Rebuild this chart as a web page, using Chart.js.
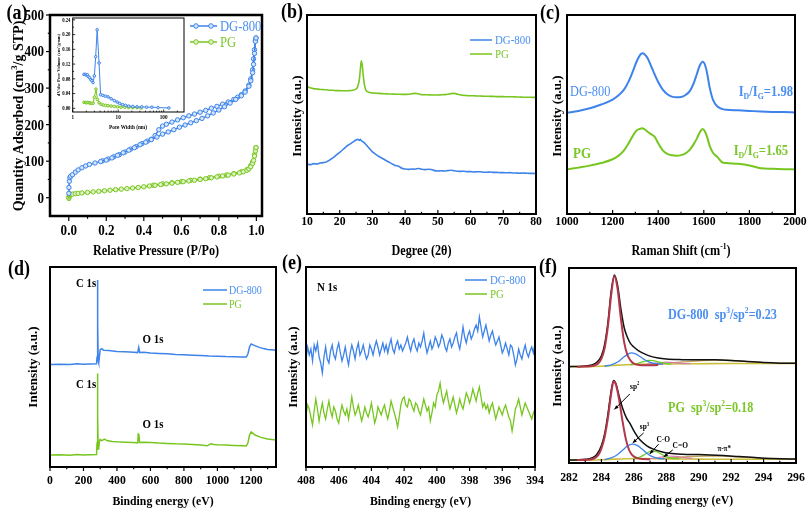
<!DOCTYPE html>
<html>
<head>
<meta charset="utf-8">
<script src="https://cdn.jsdelivr.net/npm/chart.js@4.4.1/dist/chart.umd.min.js"></script>
<style>
  body { margin: 0; background: #fff; }
  #wrap { position: relative; width: 808px; height: 511px; overflow: hidden; }
  #wrap canvas { position: absolute; left: 0; top: 0; }
</style>
</head>
<body>
<div id="wrap">
  <canvas id="ca" width="808" height="511"></canvas>
  <canvas id="cb" width="808" height="511"></canvas>
  <canvas id="cc" width="808" height="511"></canvas>
  <canvas id="cd" width="808" height="511"></canvas>
  <canvas id="ce" width="808" height="511"></canvas>
  <canvas id="cf" width="808" height="511"></canvas>
  <canvas id="cin" width="808" height="511"></canvas>
</div>
<script>
/* six-panel characterisation figure: BET, XRD, Raman, XPS survey, N 1s, C 1s */

// ---- (a) N2 isotherms, P/Po vs quantity adsorbed
const dgAdsP = [0.0005,0.001,0.003,0.006,0.01,0.02,0.035,0.05,0.07,0.09,0.11,0.14,0.17,0.2,0.23,0.26,0.29,0.32,0.35,0.38,0.41,0.44,0.47,0.5,0.53,0.56,0.59,0.62,0.65,0.68,0.71,0.74,0.77,0.8,0.83,0.86,0.89,0.92,0.94,0.96,0.97,0.98,0.985,0.99,0.995,0.998];
const dgAdsQ = [12,28,45,55,59,63,70,76,82,87,91,95,99,103,109,116,123,130,137,145,152,159,166,174,180,186,193,199,205,211,217,224,232,240,249,259,269,279,289,305,320,342,365,395,428,437];
const dgDesP = [0.998,0.995,0.99,0.985,0.98,0.97,0.96,0.94,0.92,0.9,0.88,0.85,0.82,0.79,0.76,0.73,0.7,0.67,0.64,0.61,0.58,0.55,0.52,0.5,0.48,0.46,0.44,0.42,0.39,0.36,0.33,0.3,0.27,0.24,0.21,0.18];
const dgDesQ = [437,430,405,380,350,325,308,292,282,275,269,262,256,250,245,239,234,229,224,219,213,207,201,196,186,170,160,155,148,140,133,125,118,112,106,101];
const pgAdsP = [0.0005,0.001,0.003,0.006,0.01,0.02,0.035,0.05,0.07,0.1,0.13,0.16,0.19,0.22,0.25,0.28,0.31,0.34,0.37,0.4,0.43,0.46,0.49,0.52,0.55,0.58,0.61,0.64,0.67,0.7,0.73,0.76,0.79,0.82,0.85,0.88,0.91,0.93,0.95,0.96,0.97,0.98,0.985,0.99,0.995,0.998];
const pgAdsQ = [-2,2,6,8,9,10,11,12,13,14.5,16,17.5,19,20.5,22,23.5,25,26.5,28,30,32,34,36,38,40,42,44,46,48,50,52,54.5,57,59.5,62,65,68,71,75,79,85,94,102,114,128,137];
const pgDesP = [0.998,0.99,0.98,0.97,0.95,0.92,0.88,0.84,0.8,0.75,0.7,0.65,0.6,0.55,0.5,0.45];
const pgDesQ = [137,118,98,88,77,71,66,62,59,55,51,47.5,44,41,38,34];

// ---- (a) inset, pore width (nm) vs dV/dw
const dgPoreW = [1.77,1.9,2.0,2.1,2.2,2.35,2.5,2.65,2.8,3.0,3.2,3.45,3.8,4.1,4.6,5.2,6.0,7.0,8.2,9.5,10.8,12.5,14.5,17,21,26,33,42,55,75,130];
const dgPoreV = [0.092,0.092,0.090,0.091,0.086,0.083,0.078,0.075,0.070,0.088,0.140,0.213,0.123,0.037,0.035,0.033,0.031,0.026,0.021,0.017,0.013,0.010,0.008,0.006,0.005,0.004,0.004,0.003,0.003,0.002,0.001];
const pgPoreW = [1.77,1.9,2.0,2.15,2.3,2.45,2.6,2.8,3.0,3.25,3.5,3.8,4.2,4.7,5.3,6.0,7.0,8.2,9.6,11.5,14,17,21,26,32];
const pgPoreV = [0.016,0.016,0.015,0.016,0.015,0.014,0.013,0.014,0.030,0.052,0.024,0.015,0.011,0.009,0.008,0.007,0.006,0.005,0.004,0.003,0.003,0.002,0.002,0.002,0.001];

// ---- (b) XRD, 2theta vs intensity (a.u.)
const xrdAngle = [10,11,12,13,14,15,16,17,18,19,20,21,22,23,24,25,25.5,26,26.3,26.6,26.9,27.2,27.6,28,29,30,31,32,33,34,35,36,37,38,39,40,41,42,43,44,45,46,47,48,49,50,51,52,53,54,55,56,57,58,59,60,61,62,63,64,65,66,67,68,69,70,71,72,73,74,75,76,77,78,79,80];
const xrdDG = [25.0,24.8,25.3,25.1,25.6,25.8,26.2,27.2,28.3,29.7,31.0,32.4,33.9,35.0,36.1,37.2,37.6,37.0,37.5,36.8,36.5,36.2,35.6,34.9,33.0,31.2,30.0,28.9,28.0,27.0,26.1,25.2,24.4,24.0,23.0,22.6,22.4,22.6,22.5,22.9,22.5,22.3,22.5,22.4,21.8,21.6,21.7,21.6,21.8,22.0,21.7,21.5,21.4,21.5,21.3,21.3,21.1,21.2,21.2,21.0,21.0,21.1,20.9,20.9,20.8,20.8,20.7,20.8,20.6,20.6,20.5,20.6,20.5,20.4,20.4,20.3];
const xrdPG = [64.0,63.4,63.0,62.8,62.6,62.5,62.4,62.2,62.2,62.0,62.0,61.9,61.9,62.0,62.2,62.8,64.0,67.5,72.5,77.0,74.5,69.5,64.5,62.3,61.2,60.8,60.7,60.6,60.5,60.4,60.3,60.3,60.2,60.2,60.1,60.1,60.2,60.4,60.6,60.4,60.0,59.9,59.9,59.8,59.8,59.8,59.9,60.0,60.2,60.5,60.6,60.2,59.8,59.6,59.5,59.4,59.4,59.3,59.3,59.2,59.2,59.1,59.1,59.0,59.0,59.0,58.9,58.9,58.9,58.8,58.8,58.7,58.7,58.7,58.6,58.6];

// ---- (c) Raman, shift (cm-1) vs intensity (a.u.)
const ramanShift = [1000,1050,1100,1150,1200,1225,1250,1270,1290,1305,1320,1330,1340,1355,1370,1385,1400,1420,1440,1460,1480,1500,1520,1540,1555,1570,1582,1595,1605,1615,1625,1640,1660,1680,1700,1750,1800,1850,1900,1950,2000];
const ramanDG = [50.9,51.8,53.1,55.0,57.5,59.5,62.5,66.5,72.0,76.5,79.8,80.8,80.3,78.0,74.0,70.0,66.3,62.5,60.2,59.0,58.7,58.8,59.8,62.0,65.5,70.5,74.5,76.5,75.0,70.5,64.0,57.5,54.0,52.8,52.4,52.1,51.8,51.5,51.3,51.2,51.0];
const ramanPG = [22.4,23.3,24.3,25.6,27.5,29.2,32.0,35.5,39.5,42.0,42.8,43.1,42.6,41.2,40.0,38.8,35.5,32.0,30.2,29.5,29.3,29.6,30.5,32.5,35.0,38.0,41.0,42.7,41.5,38.5,34.5,30.8,28.6,26.0,25.6,25.2,24.4,23.0,22.7,22.5,22.4];

// ---- (d) XPS survey, binding energy (eV) vs intensity (a.u.)
const surveyDGeV = [0,60,120,160,200,240,278,281,283,284.6,286,288,291,295,300,310,320,350,400,450,500,524,530,536,560,600,650,700,750,800,850,900,950,1000,1050,1100,1150,1172,1182,1192,1202,1220,1250,1275,1300,1325,1350];
const surveyDG = [51.3,51.4,51.2,51.6,51.4,51.5,51.6,55,75,93.5,72,53,52,55,58.8,59.2,58.4,58.2,57.8,57.6,57.4,57.2,59.8,57.3,57.4,57.0,56.8,56.6,56.3,56.1,55.9,55.7,55.5,55.4,55.2,55.1,55.0,55.0,56.5,60.0,61.5,60.8,59.8,59.2,58.8,58.6,58.4];
const surveyPGeV = [0,60,120,160,200,240,278,281,283,284.6,286,288,291,295,300,310,325,340,370,400,450,500,524,527,531,535,560,600,650,700,750,800,850,900,940,960,980,1000,1050,1100,1150,1172,1182,1192,1202,1225,1260,1300,1350];
const surveyPG = [6.0,6.1,5.9,6.2,6.0,6.1,6.2,12,30,46.8,25,9.0,9.5,12.5,13.8,13.2,13.9,13.2,12.8,12.6,12.4,12.2,12.0,16.5,16.2,12.3,12.4,12.3,12.0,11.8,11.6,11.5,11.3,11.0,10.6,11.6,11.2,11.1,11.0,10.8,10.6,10.5,12,16.0,17.5,16.0,14.8,14.0,13.5];

// ---- (e) N 1s, binding energy (eV) vs intensity (a.u.)
const n1sEV = [
  408.0,407.9,407.8,407.7,407.6,407.5,407.4,407.3,407.2,407.1,
  407.0,406.9,406.8,406.7,406.6,406.5,406.4,406.3,406.2,406.1,
  406.0,405.9,405.8,405.7,405.6,405.5,405.4,405.3,405.2,405.1,
  405.0,404.9,404.8,404.7,404.6,404.5,404.4,404.3,404.2,404.1,
  404.0,403.9,403.8,403.7,403.6,403.5,403.4,403.3,403.2,403.1,
  403.0,402.9,402.8,402.7,402.6,402.5,402.4,402.3,402.2,402.1,
  402.0,401.9,401.8,401.7,401.6,401.5,401.4,401.3,401.2,401.1,
  401.0,400.9,400.8,400.7,400.6,400.5,400.4,400.3,400.2,400.1,
  400.0,399.9,399.8,399.7,399.6,399.5,399.4,399.3,399.2,399.1,
  399.0,398.9,398.8,398.7,398.6,398.5,398.4,398.3,398.2,398.1,
  398.0,397.9,397.8,397.7,397.6,397.5,397.4,397.3,397.2,397.1,
  397.0,396.9,396.8,396.7,396.6,396.5,396.4,396.3,396.2,396.1,
  396.0,395.9,395.8,395.7,395.6,395.5,395.4,395.3,395.2,395.1,
  395.0,394.9,394.8,394.7,394.6,394.5,394.4,394.3,394.2,394.1,
  394.0];
const n1sDG = [
  54,60,56,59,53,61,58,62,55,52,
  47,55,60,54,52,58,61,56,54,59,
  62,57,53,56,60,55,51,57,61,58,
  54,59,62,56,58,61,57,54,56,61,
  59,56,60,63,60,56,59,62,58,61,
  57,61,64,59,57,61,63,59,61,58,
  60,62,65,61,58,62,64,60,58,62,
  60,63,67,61,57,60,63,59,61,65,
  63,60,62,66,64,60,58,62,64,60,
  62,65,67,62,59,64,70,65,62,66,
  68,64,66,69,71,68,75,70,65,68,
  71,67,63,66,68,64,61,63,65,61,
  57,59,62,59,56,61,60,56,51,54,
  59,56,54,58,61,57,55,58,60,57,
  62];
const n1sPG = [
  26,31,29,25,21,28,34,29,23,28,
  32,27,24,29,33,28,25,30,28,24,
  22,27,31,28,26,29,24,29,35,30,
  26,28,31,27,23,26,30,27,25,28,
  32,27,22,25,30,28,26,29,31,27,
  24,28,33,30,27,24,20,25,31,34,
  35,31,30,34,33,30,28,32,31,28,
  26,30,34,31,28,30,23,27,32,30,
  36,38,42,36,32,35,38,33,29,32,
  35,31,27,30,34,31,29,33,37,35,
  32,35,39,36,33,37,40,35,30,32,
  29,31,27,30,32,28,24,27,30,28,
  26,29,31,28,25,23,18,23,29,31,
  34,30,26,29,32,30,28,26,24,27,
  29];

// ---- (f) C 1s fits, DG-800 (upper trace)
const topEnvE = [282,282.5,283,283.4,283.7,284,284.2,284.4,284.6,284.8,285,285.2,285.4,285.6,285.8,286,286.3,286.6,287,287.5,288,289,290,291,292,293,294,295,296];
const topEnv = [49.4,49.5,49.7,50.3,51.5,55,61,72,88,96.4,91,79,69.5,64.5,61.2,59.5,57.5,56.2,54.8,53.8,53.3,53.0,52.9,52.9,52.6,52.0,51.5,51.2,51.1];
const topSp2E = [282.5,283,283.5,283.8,284,284.2,284.4,284.6,284.8,285,285.2,285.4,285.6,285.8,286,286.3,286.8,287.5];
const topSp2 = [49.4,49.5,49.9,51,53.5,59,70,86,95.8,89,74,62,55.5,52.5,51,50.3,50.1,50.2];
const topSp3E = [284.2,284.6,285,285.3,285.6,285.85,286.1,286.4,286.7,287,287.4,287.8];
const topSp3 = [49.7,50.3,51.8,53.8,55.6,56.5,56,54.5,52.8,51.6,50.9,50.7];
const topCOE = [285.8,286.2,286.6,286.9,287.2,287.5,287.9,288.3];
const topCO = [50.5,51,52,52.6,52.5,51.8,51.1,50.8];
const topCdOE = [286.8,287.4,288,288.5,289,289.5];
const topCdO = [50.7,51.2,51.7,51.5,51,50.9];
const topPiE = [287,288,289,290,291,292,293,294,295,296];
const topPi = [50.7,51.2,51.8,52.4,52.8,52.6,52,51.5,51.2,51.1];
const topBgE = [282,283,284,284.5,285,285.5,286,287,288,290,292,294,296];
const topBg = [49.4,49.4,49.6,49.9,50.2,50.4,50.5,50.7,50.8,50.9,51,51,51.1];

// ---- (f) C 1s fits, PG (lower trace)
const botEnvE = [282,282.5,283,283.4,283.7,284,284.2,284.4,284.6,284.75,284.9,285.1,285.35,285.55,285.75,286,286.36,286.8,287.2,287.7,288.2,289,290,290.7,291.5,292.5,293.8,295,296];
const botEnv = [1.5,1.6,1.9,2.6,4.2,9,15,25,37,42.3,40.5,34,27,23,20.4,16.5,12,8.8,7.1,5.8,5.0,4.5,4.3,4.1,3.8,3.3,2.6,2.2,2.0];
const botSp2E = [282.5,283,283.5,283.8,284,284.2,284.4,284.6,284.75,284.9,285.1,285.3,285.5,285.7,285.9,286.2,286.6,287];
const botSp2 = [1.5,1.6,2.2,4,7.5,13.5,23,35.5,41.8,40,32,21.5,12.5,6.8,4,2.5,2.0,1.9];
const botSp3E = [284.2,284.6,285,285.3,285.6,285.9,286.2,286.5,286.8,287.1,287.5,287.9];
const botSp3 = [1.7,2.6,4.4,6.5,8.7,9.7,9.0,7.2,5.0,3.4,2.4,2.1];
const botCOE = [286,286.4,286.8,287.1,287.4,287.7,288,288.4,288.8];
const botCO = [2.1,3.1,5.0,6.1,5.8,4.5,3.2,2.4,2.2];
const botCdOE = [287,287.6,288.1,288.6,289.1,289.6];
const botCdO = [2.2,2.9,3.6,3.4,2.8,2.4];
const botPiE = [287.5,288.5,289.5,290.5,291.5,292.5,293.5,294.5,295.5,296];
const botPi = [2.2,2.8,3.3,3.6,3.5,3.1,2.6,2.3,2.1,2.0];
const botBgE = [282,283,284,284.8,285.5,286.5,288,290,292,294,296];
const botBg = [1.5,1.5,1.7,2.0,2.2,2.3,2.1,2.0,1.9,1.9,1.9];

// tick values
const ticksA_x = [0, 0.2, 0.4, 0.6, 0.8, 1.0], ticksA_y = [0, 100, 200, 300, 400, 500];
const ticksIn_x = [1, 10, 100], ticksIn_y = [0, 0.04, 0.08, 0.12, 0.16, 0.20, 0.24];
const ticksB = [10, 20, 30, 40, 50, 60, 70, 80];
const ticksC = [1000, 1200, 1400, 1600, 1800, 2000];
const ticksD = [0, 200, 400, 600, 800, 1000, 1200];
const ticksE = [408, 406, 404, 402, 400, 398, 396, 394];
const ticksF = [282, 284, 286, 288, 290, 292, 294, 296];

// ---------------------------------------------------------------
const W = 808, H = 511;
const BLUE = '#3d83ea', GREEN = '#77c61f';
const BLUE_T = '#4a8ff0', GREEN_T = '#7bc72a';
const SERIF = '"Liberation Serif", "Times New Roman", serif';

const xy = (xs, ys) => xs.map((x, i) => ({ x, y: ys[i] }));
const series = (xs, ys, color, w, extra) =>
  Object.assign({ data: xy(xs, ys), showLine: true, borderColor: color, borderWidth: w, pointRadius: 0, fill: false }, extra || {});
const mids = (arr) => arr.slice(1).map((v, i) => (v + arr[i]) / 2);

function parseRich(s) {
  const out = [], re = /([\^_])\{([^}]*)\}/g;
  let last = 0, m;
  while ((m = re.exec(s))) {
    if (m.index > last) out.push([s.slice(last, m.index), '']);
    out.push([m[2], m[1] === '^' ? 'sup' : 'sub']);
    last = re.lastIndex;
  }
  if (last < s.length) out.push([s.slice(last), '']);
  return out;
}

// text with sup/sub, y = middle of capitals, horizontally condensed like the source
function drawRich(ctx, str, x, y, o) {
  const size = o.size || 13, weight = o.weight || 'bold', sx = o.sx == null ? 0.87 : o.sx;
  const parts = parseRich(String(str)).map(([t, m]) => {
    const s = m ? size * 0.62 : size;
    ctx.font = `${weight} ${s}px ${SERIF}`;
    return { t, m, s, w: ctx.measureText(t).width };
  });
  const total = parts.reduce((a, p) => a + p.w, 0);
  ctx.save();
  ctx.translate(x, y);
  if (o.rot) ctx.rotate(o.rot);
  ctx.scale(sx, 1);
  ctx.fillStyle = o.color || '#000';
  ctx.textBaseline = 'alphabetic';
  let cx = o.align === 'left' ? 0 : o.align === 'right' ? -total : -total / 2;
  parts.forEach(p => {
    ctx.font = `${weight} ${p.s}px ${SERIF}`;
    const dy = p.m === 'sup' ? -size * 0.4 : p.m === 'sub' ? size * 0.22 : 0;
    ctx.fillText(p.t, cx, size * 0.33 + dy);
    cx += p.w;
  });
  ctx.restore();
}

function decoPlugin(d) {
  return {
    id: 'deco',
    beforeDatasetsDraw(chart) {
      if (!d.bg) return;
      const a = chart.chartArea, ctx = chart.ctx;
      ctx.save(); ctx.fillStyle = d.bg;
      ctx.fillRect(a.left, a.top, a.right - a.left, a.bottom - a.top);
      ctx.restore();
    },
    afterDraw(chart) {
      const { ctx, chartArea: a } = chart;
      const sx = chart.scales.x, sy = chart.scales.y;
      const seg = (x1, y1, x2, y2) => { ctx.beginPath(); ctx.moveTo(x1, y1); ctx.lineTo(x2, y2); ctx.stroke(); };
      ctx.save();
      ctx.strokeStyle = '#000';
      ctx.lineWidth = d.frame;
      ctx.strokeRect(a.left, a.top, a.right - a.left, a.bottom - a.top);
      ctx.lineWidth = d.tickW || 1.2;
      if (d.xt) {
        const t = d.xt, s = t.out ? 1 : -1;
        t.major.forEach(v => { const p = sx.getPixelForValue(v); seg(p, a.bottom, p, a.bottom + s * t.len); });
        (t.minor || []).forEach(v => { const p = sx.getPixelForValue(v); seg(p, a.bottom, p, a.bottom + s * t.len * 0.55); });
      }
      if (d.yt) {
        const t = d.yt, s = t.out ? -1 : 1;
        t.major.forEach(v => { const p = sy.getPixelForValue(v); seg(a.left, p, a.left + s * t.len, p); });
        (t.minor || []).forEach(v => { const p = sy.getPixelForValue(v); seg(a.left, p, a.left + s * t.len * 0.55, p); });
      }
      (d.arrows || []).forEach(ar => {
        const x1 = sx.getPixelForValue(ar.from[0]), y1 = sy.getPixelForValue(ar.from[1]);
        const x2 = sx.getPixelForValue(ar.to[0]), y2 = sy.getPixelForValue(ar.to[1]);
        ctx.lineWidth = 1;
        seg(x1, y1, x2, y2);
        const ang = Math.atan2(y2 - y1, x2 - x1), hl = 4.5;
        ctx.fillStyle = '#000';
        ctx.beginPath();
        ctx.moveTo(x2, y2);
        ctx.lineTo(x2 - hl * Math.cos(ang - 0.4), y2 - hl * Math.sin(ang - 0.4));
        ctx.lineTo(x2 - hl * Math.cos(ang + 0.4), y2 - hl * Math.sin(ang + 0.4));
        ctx.closePath(); ctx.fill();
      });
      if (d.legend) {
        const lg = d.legend;
        lg.rows.forEach(r => {
          ctx.strokeStyle = r.color; ctx.lineWidth = lg.lw;
          seg(lg.x0, r.y, lg.x1, r.y);
          if (r.marker) {
            [lg.x0 + 6, lg.x1 - 6].forEach(mx => {
              ctx.beginPath(); ctx.arc(mx, r.y, 2.3, 0, Math.PI * 2);
              ctx.fillStyle = r.marker; ctx.fill(); ctx.lineWidth = 1; ctx.stroke();
            });
          }
        });
      }
      ctx.restore();

      if (d.xt) d.xt.major.forEach(v => drawRich(ctx, d.xt.fmt(v), sx.getPixelForValue(v), d.xt.ly, { size: d.xt.size }));
      if (d.yt) d.yt.major.forEach(v => drawRich(ctx, d.yt.fmt(v), d.yt.lx, sy.getPixelForValue(v), { size: d.yt.size, align: 'right' }));
      if (d.legend) d.legend.rows.forEach(r =>
        drawRich(ctx, r.label, d.legend.tx, r.y, { size: d.legend.size, weight: 'normal', color: r.text, align: 'left' }));
      (d.texts || []).forEach(t => {
        const x = t.ex !== undefined ? sx.getPixelForValue(t.ex) : t.x;
        const y = t.ev !== undefined ? sy.getPixelForValue(t.ev) : t.y;
        drawRich(ctx, t.t, x, y, t);
      });
    }
  };
}

function panel(id, box, xs, ys, datasets, deco) {
  const [L, T, R, B] = box;
  return new Chart(document.getElementById(id), {
    type: 'scatter',
    data: { datasets },
    options: {
      responsive: false, animation: false, events: [], devicePixelRatio: 1,
      layout: { padding: { left: L, top: T, right: W - R, bottom: H - B } },
      plugins: { legend: { display: false }, tooltip: { enabled: false } },
      scales: {
        x: Object.assign({ type: 'linear', display: false, bounds: 'data' }, xs),
        y: Object.assign({ type: 'linear', display: false, bounds: 'data' }, ys)
      }
    },
    plugins: [decoPlugin(deco)]
  });
}

const ROT = -Math.PI / 2;
const mark = (color, fill, r) => ({ pointRadius: r, pointBorderWidth: 1, pointBorderColor: color, pointBackgroundColor: fill });
const smooth = { cubicInterpolationMode: 'monotone' };

// (a)
panel('ca', [50, 15, 262, 216], { min: -0.1, max: 1.03 }, { min: -50, max: 500 }, [
  series(dgAdsP, dgAdsQ, BLUE, 1.5, mark(BLUE, '#d3e4fb', 2.2)),
  series(dgDesP, dgDesQ, BLUE, 1.5, mark(BLUE, '#d3e4fb', 2.2)),
  series(pgAdsP, pgAdsQ, GREEN, 1.5, mark(GREEN, '#e0f2c6', 2.2)),
  series(pgDesP, pgDesQ, GREEN, 1.5, mark(GREEN, '#e0f2c6', 2.2))
], {
  frame: 2.5,
  xt: { major: ticksA_x, minor: mids(ticksA_x), len: 5, out: true, ly: 230, size: 15, fmt: v => v.toFixed(1) },
  yt: { major: ticksA_y, minor: mids(ticksA_y), len: 4, out: true, lx: 44, size: 15, fmt: v => String(v) },
  legend: { x0: 190, x1: 217, tx: 220, size: 14.5, lw: 1.5, rows: [
    { y: 26, label: 'DG-800', color: BLUE, text: BLUE_T, marker: '#d3e4fb' },
    { y: 42, label: 'PG', color: GREEN, text: GREEN_T, marker: '#e0f2c6' }] },
  texts: [
    { t: '(a)', x: 17, y: 12, size: 20, sx: 0.9 },
    { t: 'Quantity Adsorbed (cm^{3}/g STP)', x: 18, y: 116, size: 14, rot: ROT, sx: 1 },
    { t: 'Relative Pressure (P/Po)', x: 156, y: 250, size: 14 }
  ]
});

// (a) inset: pore size distribution
panel('cin', [72.7, 18, 184, 112], { type: 'logarithmic', min: 1, max: 280 }, { min: -0.01, max: 0.245 }, [
  series(dgPoreW, dgPoreV, BLUE, 1, mark(BLUE, '#d3e4fb', 1.3)),
  series(pgPoreW, pgPoreV, GREEN, 1, mark(GREEN, '#e0f2c6', 1.3))
], {
  frame: 1, bg: '#fff', tickW: 0.8,
  xt: { major: ticksIn_x, minor: [2, 3, 4, 5, 6, 7, 8, 9, 20, 30, 40, 50, 60, 70, 80, 90, 200], len: 2.5, out: false, ly: 117.5, size: 6, fmt: v => String(v) },
  yt: { major: ticksIn_y, minor: mids(ticksIn_y), len: 2.5, out: false, lx: 70.5, size: 5.5, fmt: v => v.toFixed(2) },
  texts: [
    { t: 'dV/dw Pore Volume (cm^{3}/g·nm)', x: 58, y: 65, size: 4.6, rot: ROT, sx: 1 },
    { t: 'Pore Width (nm)', x: 128, y: 127, size: 6 }
  ]
});

// (b)
panel('cb', [307, 15, 536, 214], { min: 10, max: 80 }, { min: 0, max: 100 }, [
  series(xrdAngle, xrdDG, BLUE, 1.6, smooth),
  series(xrdAngle, xrdPG, GREEN, 1.6, smooth)
], {
  frame: 2,
  xt: { major: ticksB, minor: mids(ticksB), len: 4, out: false, ly: 221, size: 13.5, fmt: v => String(v) },
  legend: { x0: 470, x1: 492, tx: 495, size: 12.5, lw: 1.5, rows: [
    { y: 40, label: 'DG-800', color: BLUE, text: BLUE_T },
    { y: 54, label: 'PG', color: GREEN, text: GREEN_T }] },
  texts: [
    { t: '(b)', x: 292, y: 11, size: 20, sx: 0.9 },
    { t: 'Intensity (a.u.)', x: 297, y: 116, size: 13, rot: ROT, sx: 1 },
    { t: 'Degree (2θ)', x: 421.5, y: 250, size: 14 }
  ]
});

// (c)
panel('cc', [567, 15, 795, 214], { min: 1000, max: 2000 }, { min: 0, max: 100 }, [
  series(ramanShift, ramanDG, BLUE, 2, smooth),
  series(ramanShift, ramanPG, GREEN, 2, smooth)
], {
  frame: 2,
  xt: { major: ticksC, minor: mids(ticksC), len: 4, out: false, ly: 221, size: 13.5, fmt: v => String(v) },
  texts: [
    { t: '(c)', x: 550, y: 12, size: 20, sx: 0.9 },
    { t: 'Intensity (a.u.)', x: 557, y: 116, size: 13, rot: ROT, sx: 1 },
    { t: 'Raman Shift (cm^{-1})', x: 681, y: 250, size: 14 },
    { t: 'DG-800', x: 570, y: 91, size: 15, weight: 'normal', color: BLUE_T, align: 'left', sx: 0.82 },
    { t: 'I_{D}/I_{G}=1.98', x: 793, y: 91, size: 14.5, color: BLUE_T, align: 'right' },
    { t: 'PG', x: 573, y: 153, size: 15, color: GREEN_T, align: 'left' },
    { t: 'I_{D}/I_{G}=1.65', x: 788, y: 150, size: 14.5, color: GREEN_T, align: 'right' }
  ]
});

// (d)
panel('cd', [50, 267, 276, 467], { min: 0, max: 1350 }, { min: 0, max: 100 }, [
  series(surveyDGeV, surveyDG, BLUE, 1.5),
  series(surveyPGeV, surveyPG, GREEN, 1.5)
], {
  frame: 2,
  xt: { major: ticksD, minor: [100, 300, 500, 700, 900, 1100, 1300], len: 4, out: true, ly: 480, size: 13.5, fmt: v => String(v) },
  legend: { x0: 203, x1: 227, tx: 229, size: 11.5, lw: 1.5, rows: [
    { y: 290, label: 'DG-800', color: BLUE, text: BLUE_T },
    { y: 304, label: 'PG', color: GREEN, text: GREEN_T }] },
  texts: [
    { t: '(d)', x: 19, y: 268, size: 20, sx: 0.9 },
    { t: 'Intensity (a.u.)', x: 33, y: 367, size: 13, rot: ROT, sx: 1 },
    { t: 'Binding energy (eV)', x: 163, y: 501, size: 13.5 },
    { t: 'C 1s', x: 86, y: 283, size: 12.5 },
    { t: 'O 1s', x: 153, y: 339, size: 12.5 },
    { t: 'C 1s', x: 86, y: 384, size: 12.5 },
    { t: 'O 1s', x: 153, y: 424, size: 12.5 }
  ]
});

// (e)
panel('ce', [306, 267, 535, 467], { min: 394, max: 408, reverse: true }, { min: 0, max: 100 }, [
  series(n1sEV, n1sDG, BLUE, 1.3),
  series(n1sEV, n1sPG, GREEN, 1.3)
], {
  frame: 2,
  xt: { major: ticksE, minor: mids(ticksE), len: 4, out: true, ly: 480, size: 13.5, fmt: v => String(v) },
  legend: { x0: 465, x1: 487, tx: 490, size: 12.5, lw: 1.5, rows: [
    { y: 280, label: 'DG-800', color: BLUE, text: BLUE_T },
    { y: 294, label: 'PG', color: GREEN, text: GREEN_T }] },
  texts: [
    { t: '(e)', x: 292, y: 262, size: 20, sx: 0.9 },
    { t: 'Intensity (a.u.)', x: 293, y: 367, size: 13, rot: ROT, sx: 1 },
    { t: 'Binding energy (eV)', x: 420.5, y: 501, size: 13.5 },
    { t: 'N 1s', x: 327, y: 287, size: 12.5 }
  ]
});

// (f)
const RED = '#b3364a', PINK = '#d67fae', TAN = '#c2a35e', OLIVE = '#cbbf3c', FGREEN = '#6ccc2c';
panel('cf', [569, 268, 796, 463], { min: 282, max: 296 }, { min: 0, max: 100 }, [
  series(topSp2E, topSp2, RED, 2, smooth),
  series(botSp2E, botSp2, RED, 2, smooth),
  series(topEnvE, topEnv, '#111', 1.5, smooth),
  series(botEnvE, botEnv, '#111', 1.5, smooth),
  series(topSp3E, topSp3, BLUE, 1.3, smooth),
  series(botSp3E, botSp3, BLUE, 1.3, smooth),
  series(topCOE, topCO, FGREEN, 1.3, smooth),
  series(botCOE, botCO, FGREEN, 1.3, smooth),
  series(topCdOE, topCdO, PINK, 1.2, smooth),
  series(botCdOE, botCdO, PINK, 1.2, smooth),
  series(topPiE, topPi, TAN, 1.4, smooth),
  series(botPiE, botPi, TAN, 1.4, smooth),
  series(topBgE, topBg, OLIVE, 1.6, smooth),
  series(botBgE, botBg, OLIVE, 1.6, smooth)
], {
  frame: 2,
  xt: { major: ticksF, minor: mids(ticksF), len: 4, out: false, ly: 477, size: 13.5, fmt: v => String(v) },
  arrows: [
    { from: [285.75, 35.4], to: [284.8, 27.5] },
    { from: [286.6, 15.4], to: [285.93, 10.3] },
    { from: [287.53, 9.7], to: [286.98, 4.6] },
    { from: [288.4, 6.7], to: [287.84, 3.1] }
  ],
  texts: [
    { t: '(f)', x: 548, y: 266, size: 20, sx: 0.9 },
    { t: 'Intensity (a.u.)', x: 557, y: 366, size: 13, rot: ROT, sx: 1 },
    { t: 'Binding energy (eV)', x: 682.5, y: 500, size: 13.5 },
    { t: 'DG-800  sp^{3}/sp^{2}=0.23', x: 668, y: 314, size: 14, color: BLUE_T, align: 'left' },
    { t: 'PG  sp^{3}/sp^{2}=0.18', x: 668, y: 407, size: 14, color: GREEN_T, align: 'left' },
    { t: 'sp^{2}', ex: 286.05, ev: 39.5, size: 8.5 },
    { t: 'sp^{3}', ex: 286.65, ev: 18.7, size: 8.5 },
    { t: 'C-O', ex: 287.81, ev: 12, size: 8.5 },
    { t: 'C=O', ex: 288.86, ev: 9, size: 8.5 },
    { t: 'π-π*', ex: 291.57, ev: 7.7, size: 8 }
  ]
});
</script>
</body>
</html>
